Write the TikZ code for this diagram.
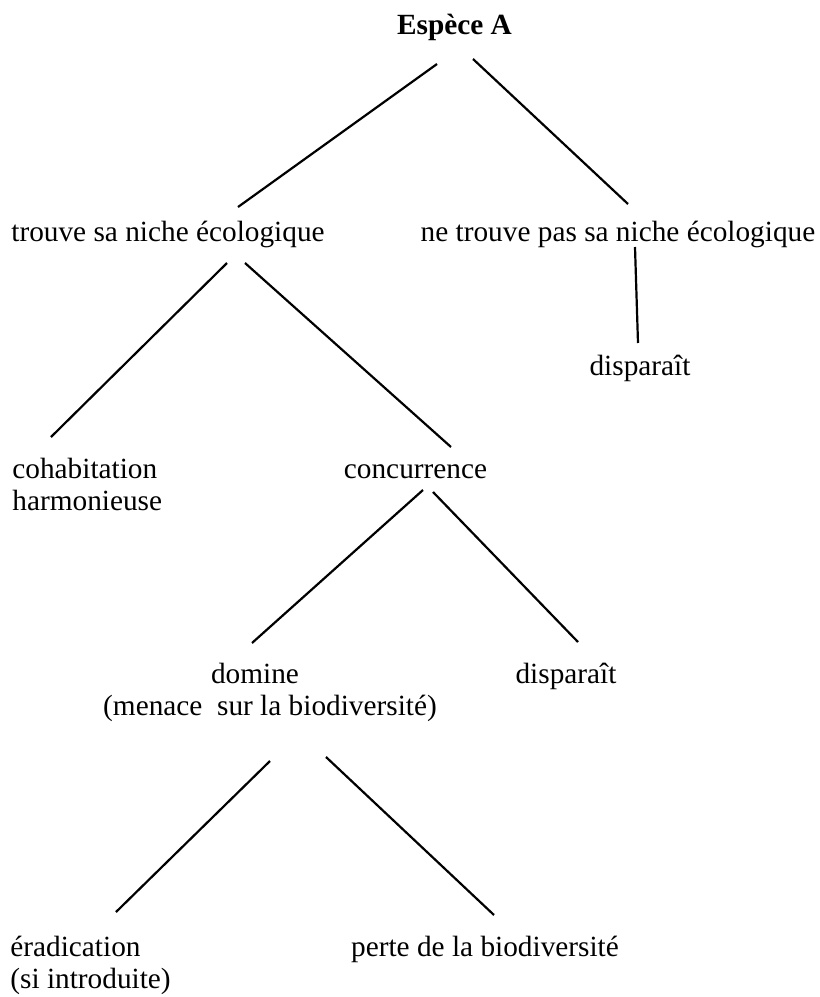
\documentclass[tikz,border=0pt]{standalone}
\usepackage{fontspec}
\setmainfont{Liberation Serif}

\begin{document}
\begin{tikzpicture}[x=0.5pt,y=-0.5pt,font=\fontsize{14.65}{16}\selectfont,
                    txt/.style={inner sep=0pt,anchor=base},
                    txtblock/.style={inner sep=0pt,anchor=north west,align=left},
                    branch/.style={line width=1.1pt}]
\useasboundingbox (0,0) rectangle (820,997);
% the texts
\node[txt] (espece) at (454.5,34) {\textbf{Espèce A}};
\node[txt] (trouve) at (168,241) {trouve sa niche écologique};
\node[txt] (netrouve) at (618,241) {ne trouve pas sa niche écologique};
\node[txt] (disp1) at (640,375) {disparaît};
\node[txtblock] (cohab) at (12,458) {cohabitation\\harmonieuse};
\node[txt] (concur) at (415.5,478) {concurrence};
\node[txt] (domine) at (255,683) {domine};
\node[txt] (menace) at (270,715) {(menace\ \ sur la biodiversité)};
\node[txt] (disp2) at (566,683) {disparaît};
\node[txtblock] (erad) at (10,936) {éradication\\(si introduite)};
\node[txt] (perte) at (485,956) {perte de la biodiversité};
% the branches
\draw[branch] ([shift={(-17.5,30)}]espece.base) -- ([shift={(70,-34)}]trouve.base);
\draw[branch] ([shift={(18.5,25)}]espece.base) -- ([shift={(10,-37)}]netrouve.base);
\draw[branch] ([shift={(17,6)}]netrouve.base) -- ([shift={(-2,-32)}]disp1.base);
\draw[branch] ([shift={(59,22)}]trouve.base) -- ([shift={(39,-21)}]cohab.north west);
\draw[branch] ([shift={(77,22)}]trouve.base) -- ([shift={(35.5,-31)}]concur.base);
\draw[branch] ([shift={(7.5,12)}]concur.base) -- ([shift={(-3,-40)}]domine.base);
\draw[branch] ([shift={(17.5,14)}]concur.base) -- ([shift={(12,-41)}]disp2.base);
\draw[branch] ([shift={(0,46)}]menace.base) -- ([shift={(106,-24)}]erad.north west);
\draw[branch] ([shift={(56,42)}]menace.base) -- ([shift={(9,-41)}]perte.base);
\end{tikzpicture}
\end{document}
